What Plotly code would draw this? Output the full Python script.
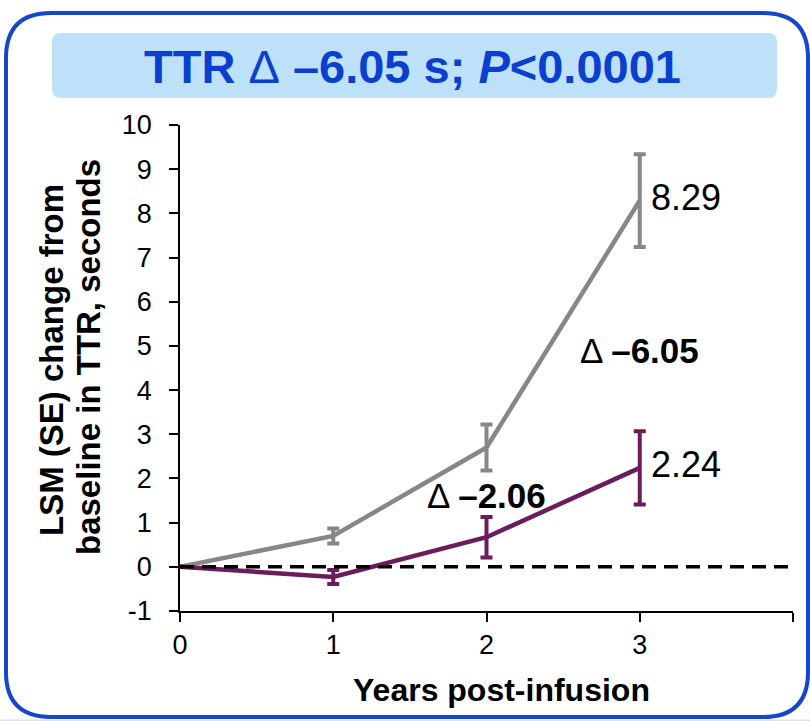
import plotly.graph_objects as go

# ---- data ----
years = [0, 1, 2, 3]
gray_vals = [0.0, 0.70, 2.70, 8.29]
gray_se = [0.0, 0.17, 0.52, 1.05]
purple_vals = [0.0, -0.23, 0.67, 2.24]
purple_se = [0.0, 0.16, 0.46, 0.83]
x_ticks = [0, 1, 2, 3, 4]
x_ticklabels = ["0", "1", "2", "3", ""]
y_ticks = list(range(-1, 11))
y_ticklabels = ["-1"] + [str(v) for v in range(0, 11)]
end_labels = ["8.29", "2.24"]
delta_labels = [("Δ <b>–6.05</b>", 3.0, 4.9), ("Δ <b>–2.06</b>", 2.0, 1.62)]

GRAY = "#878787"
PURPLE = "#6A1C5C"
BLUE = "#1546CC"
FONT = "Liberation Sans, Arial, sans-serif"

W, H = 810, 721
L, R, T, B = 180, 17, 125, 110
PW, PH = W - L - R, H - T - B


def px(X):
    return (X - L) / PW


def py(Y):
    return (H - B - Y) / PH


def rounded_path(x0, y0, x1, y1, r):
    pts = [
        ("M", [(x0 + r, y0)]),
        ("L", [(x1 - r, y0)]),
        ("Q", [(x1, y0), (x1, y0 + r)]),
        ("L", [(x1, y1 - r)]),
        ("Q", [(x1, y1), (x1 - r, y1)]),
        ("L", [(x0 + r, y1)]),
        ("Q", [(x0, y1), (x0, y1 - r)]),
        ("L", [(x0, y0 + r)]),
        ("Q", [(x0, y0), (x0 + r, y0)]),
    ]
    s = ""
    for cmd, ps in pts:
        s += cmd + " " + " ".join(f"{px(a):.5f},{py(b):.5f}" for a, b in ps) + " "
    return s + "Z"


fig = go.Figure()

fig.add_trace(go.Scatter(
    x=years, y=gray_vals, mode="lines",
    line=dict(color=GRAY, width=4.5),
    error_y=dict(type="data", array=gray_se, color=GRAY, thickness=4, width=6),
    cliponaxis=False, showlegend=False,
))
fig.add_trace(go.Scatter(
    x=years, y=purple_vals, mode="lines",
    line=dict(color=PURPLE, width=4.5),
    error_y=dict(type="data", array=purple_se, color=PURPLE, thickness=4, width=6),
    cliponaxis=False, showlegend=False,
))

# baseline dashed line
fig.add_shape(type="line", xref="x", yref="y", x0=0, x1=4, y0=0, y1=0,
              line=dict(color="black", width=3.5, dash="14px,8px"), layer="above")

# frame, title box, bottom strip
fig.add_shape(type="path", xref="paper", yref="paper",
              path=rounded_path(6, 13, 808, 717, 45),
              line=dict(color=BLUE, width=4), layer="below")
fig.add_shape(type="path", xref="paper", yref="paper",
              path=rounded_path(52, 33, 777, 98, 9),
              fillcolor="#BEE1FA", line=dict(width=0), layer="below")
fig.add_shape(type="rect", xref="paper", yref="paper",
              x0=px(0), x1=px(810), y0=py(721), y1=py(719.5),
              fillcolor="#CFE6F8", line=dict(width=0), layer="below")

annotations = []
annotations.append(dict(
    x=px(412), y=py(66), xref="paper", yref="paper",
    text="<b>TTR </b>Δ<b> –6.05 s; <i>P</i>&lt;0.0001</b>", showarrow=False,
    font=dict(family=FONT, size=47, color="#0B3FCF"), xanchor="center", yanchor="middle",
))
for xv, yv, lab in [(years[-1], gray_vals[-1], end_labels[0]), (years[-1], purple_vals[-1], end_labels[1])]:
    annotations.append(dict(
        x=xv, y=yv, xref="x", yref="y", text=lab, showarrow=False,
        xanchor="left", yanchor="middle", xshift=9, yshift=3,
        font=dict(family=FONT, size=36, color="black"),
    ))
for txt, xv, yv in delta_labels:
    annotations.append(dict(
        x=xv, y=yv, xref="x", yref="y", text=txt, showarrow=False,
        xanchor="center", yanchor="middle",
        font=dict(family=FONT, size=35, color="black"),
    ))
# axis titles
annotations.append(dict(
    x=px(51), y=py(360), xref="paper", yref="paper",
    text="<b>LSM (SE) change from</b>", showarrow=False,
    textangle=-90, font=dict(family=FONT, size=33, color="black"),
    xanchor="center", yanchor="middle",
))
annotations.append(dict(
    x=px(88), y=py(357), xref="paper", yref="paper",
    text="<b>baseline in TTR, seconds</b>", showarrow=False,
    textangle=-90, font=dict(family=FONT, size=33, color="black"),
    xanchor="center", yanchor="middle",
))
annotations.append(dict(
    x=px(501), y=py(690), xref="paper", yref="paper",
    text="<b>Years post-infusion</b>", showarrow=False,
    font=dict(family=FONT, size=32, color="black"),
    xanchor="center", yanchor="middle",
))

fig.update_layout(
    width=W, height=H, margin=dict(l=L, r=R, t=T, b=B),
    paper_bgcolor="white", plot_bgcolor="white",
    annotations=annotations,
    xaxis=dict(range=[0, 4], tickvals=x_ticks, ticktext=x_ticklabels,
               showgrid=False, zeroline=False, showline=True, linecolor="black", linewidth=1.5,
               ticks="outside", ticklen=9, tickwidth=1.5, tickcolor="black",
               tickfont=dict(family=FONT, size=27, color="black")),
    yaxis=dict(range=[-1, 10], tickvals=y_ticks, ticktext=y_ticklabels,
               showgrid=False, zeroline=False, showline=True, linecolor="black", linewidth=1.5,
               ticks="outside", ticklen=9, tickwidth=1.5, tickcolor="black",
               ticklabelstandoff=12,
               tickfont=dict(family=FONT, size=27, color="black")),
)

fig.write_html("out.html")
